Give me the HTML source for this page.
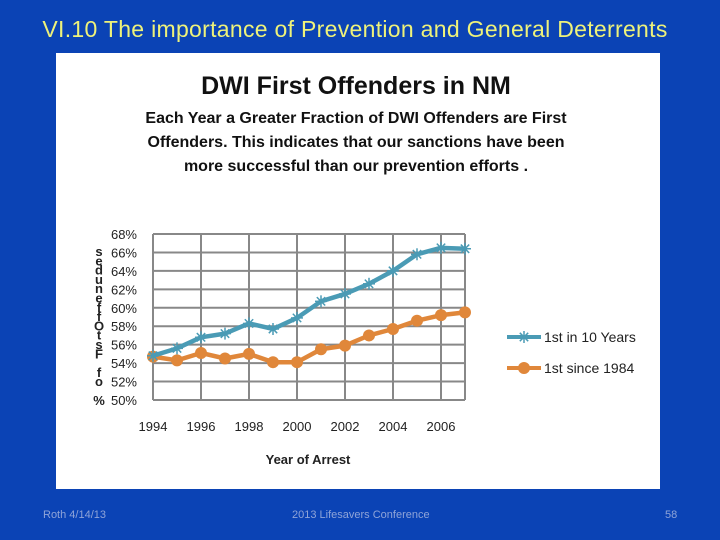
<!DOCTYPE html>
<html><head><meta charset="utf-8"><style>
body{margin:0;width:720px;height:540px;background:#0b43b5;position:relative;overflow:hidden;font-family:"Liberation Sans",sans-serif}
.t{position:absolute;left:0;width:710px;text-align:center;top:16px;color:#eef27a;font-size:23px;letter-spacing:0.3px}
.panel{position:absolute;left:56px;top:53px;width:604px;height:436px;background:#fff}
.f{position:absolute;top:509px;color:#8fa4d8;font-size:11px}
</style></head><body>
<div class="t">VI.10 The importance of Prevention and General Deterrents</div>
<div class="panel"></div>
<svg id="c" width="720" height="540" style="position:absolute;left:0;top:0"></svg>
<div class="f" style="left:43px">Roth 4/14/13</div>
<div class="f" style="left:292px">2013 Lifesavers Conference</div>
<div class="f" style="left:665px">58</div>
<script>
const years=[1994,1995,1996,1997,1998,1999,2000,2001,2002,2003,2004,2005,2006,2007];
const blue=[54.8,55.6,56.8,57.2,58.3,57.7,58.9,60.7,61.5,62.6,64.0,65.8,66.5,66.4];
const orange=[54.7,54.3,55.1,54.5,55.0,54.1,54.1,55.5,55.9,57.0,57.7,58.6,59.2,59.5];
const yTicks=[50,52,54,56,58,60,62,64,66,68];
const xTicks=[1994,1996,1998,2000,2002,2004,2006];
const svg=document.getElementById('c');const NS='http://www.w3.org/2000/svg';
const X=y=>153+(y-1994)*24,Y=v=>400-(v-50)*(166/18);
function mk(t,a,p){const e=document.createElementNS(NS,t);for(const k in a)e.setAttribute(k,a[k]);(p||svg).appendChild(e);return e}
function tx(x,y,s,o){const e=mk('text',Object.assign({x:x,y:y,'font-family':'"Liberation Sans",sans-serif','font-size':13,fill:'#222'},o||{}));e.textContent=s;return e}
let e;
e=tx(356,94,'DWI First Offenders in NM',{'font-size':25,'font-weight':'bold','text-anchor':'middle',fill:'#111'});


['Each Year a Greater Fraction of DWI Offenders are First','Offenders.  This indicates that our sanctions have been','more successful than our prevention efforts .'].forEach((s,i)=>{e=tx(356,123+i*24,s,{'font-size':16,'font-weight':'bold','text-anchor':'middle',fill:'#111'});

});
for(let yr=1994;yr<=2007;yr+=2){e=mk('line',{x1:X(yr),x2:X(yr),y1:Y(68),y2:Y(50),stroke:'#888','stroke-width':2});

}
e=mk('line',{x1:X(2007),x2:X(2007),y1:Y(68),y2:Y(50),stroke:'#888','stroke-width':2});


yTicks.forEach(v=>{e=mk('line',{x1:X(1994),x2:X(2007),y1:Y(v),y2:Y(v),stroke:'#888','stroke-width':2});


e=tx(137,Y(v)+5,v+'%',{'text-anchor':'end'});

});
xTicks.forEach(yr=>{e=tx(X(yr),431,yr,{'text-anchor':'middle'});

});
e=tx(308,464,'Year of Arrest',{'font-weight':'bold','text-anchor':'middle'});


'seduneffOtsF fo %'.split('').forEach((ch,i)=>{e=tx(99,256+i*9.3,ch,{'font-size':13,'text-anchor':'middle','font-weight':'bold'});

});
function star(x,y,p){const r=6;[[r,0],[0,r],[r*.7,r*.7],[r*.7,-r*.7]].forEach(d=>mk('line',{x1:x-d[0],y1:y-d[1],x2:x+d[0],y2:y+d[1],stroke:'#4a9bb5','stroke-width':1.5},p))}
function series(vals,col,name,marker){const g=mk('g',{});


mk('polyline',{points:vals.map((v,i)=>X(years[i])+','+Y(v)).join(' '),fill:'none',stroke:col,'stroke-width':4.5,'stroke-linejoin':'round'},g);
vals.forEach((v,i)=>{if(marker==='star')star(X(years[i]),Y(v),g);else mk('circle',{cx:X(years[i]),cy:Y(v),r:6,fill:col},g);});}
series(orange,'#e0873a','series-1st-since-1984','dot');
series(blue,'#4a9bb5','series-1st-in-10-years','star');
const lg=mk('g',{});


mk('line',{x1:507,x2:541,y1:337,y2:337,stroke:'#4a9bb5','stroke-width':4},lg);star(524,337,lg);
tx(544,342,'1st in  10 Years',{'font-size':14});
mk('line',{x1:507,x2:541,y1:368,y2:368,stroke:'#e0873a','stroke-width':4},lg);mk('circle',{cx:524,cy:368,r:6,fill:'#e0873a'},lg);
tx(544,373,'1st since 1984',{'font-size':14});
</script>
</body></html>
